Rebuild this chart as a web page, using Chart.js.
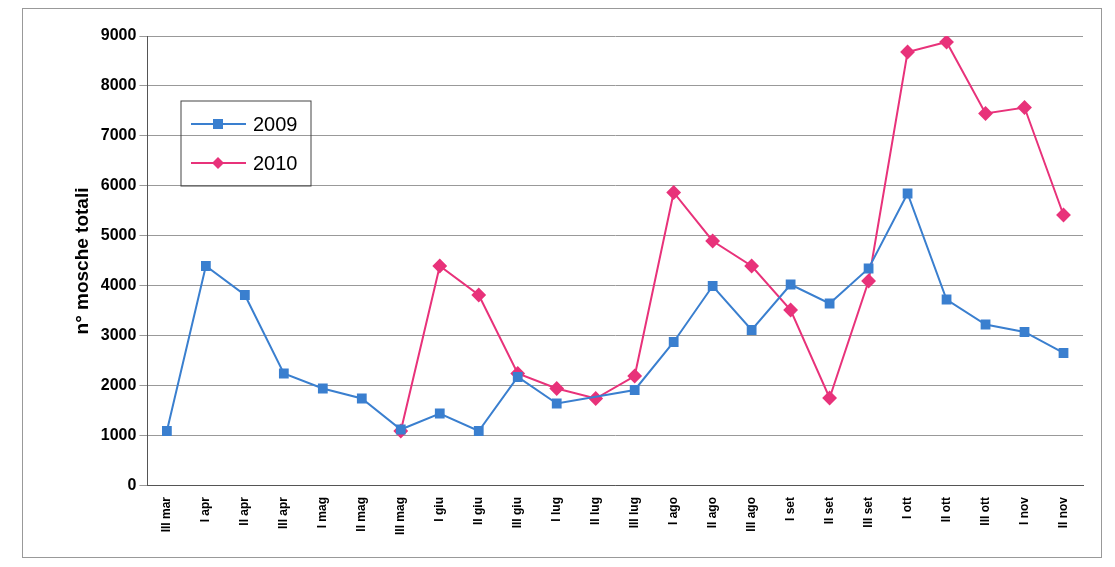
<!DOCTYPE html>
<html><head><meta charset="utf-8">
<script src="https://cdn.jsdelivr.net/npm/chart.js@4"></script>
<style>
body{margin:0;background:#fff;}
#wrap{position:absolute;left:22px;top:8px;width:1078px;height:548px;border:1px solid #999;background:#fff;}
</style></head><body>
<div id="wrap"><canvas id="c"></canvas></div>
<script>
const categories = ["III mar","I apr","II apr","III apr","I mag","II mag","III mag","I giu","II giu","III giu","I lug","II lug","III lug","I ago","II ago","III ago","I set","II set","III set","I ott","II ott","III ott","I nov","II nov"];
const serie2009 = [1100,4400,3820,2250,1950,1750,1130,1450,1100,2180,1650,null,1920,2880,4000,3120,4030,3650,4350,5850,3730,3230,3080,2660];
const serie2010 = [null,null,null,null,null,null,1100,4400,3820,2250,1950,1750,2200,5870,4900,4400,3520,1760,4100,8680,8880,7450,7570,5420];

// legenda disegnata a mano nel riquadro come nell'originale
const legendBox = {
  id: 'legendBox',
  afterDraw(chart) {
    const ctx = chart.ctx;
    ctx.save();
    ctx.strokeStyle = '#444'; ctx.lineWidth = 1;
    ctx.strokeRect(158, 92, 130, 85);
    chart.data.datasets.forEach((d, i) => {
      const y = 115 + i * 39;
      ctx.strokeStyle = d.borderColor; ctx.lineWidth = 2;
      ctx.beginPath(); ctx.moveTo(168, y); ctx.lineTo(223, y); ctx.stroke();
      ctx.fillStyle = d.borderColor;
      if (d.pointStyle === 'rect') {
        ctx.fillRect(190, y - 5, 10, 10);
      } else {
        ctx.beginPath(); ctx.moveTo(195, y - 6); ctx.lineTo(201, y); ctx.lineTo(195, y + 6); ctx.lineTo(189, y); ctx.closePath(); ctx.fill();
      }
      ctx.fillStyle = '#000';
      ctx.font = '20px "Liberation Sans"';
      ctx.textBaseline = 'middle';
      ctx.fillText(d.label, 230, y + 1);
    });
    ctx.restore();
  }
};

new Chart(document.getElementById('c'), {
  type: 'line',
  data: {
    labels: categories,
    datasets: [
      { label: '2009', data: serie2009, borderColor: '#3a7fcf', backgroundColor: '#3a7fcf',
        pointStyle: 'rect', pointRadius: 5.5, borderWidth: 2, spanGaps: true, tension: 0 },
      { label: '2010', data: serie2010, borderColor: '#e8327a', backgroundColor: '#e8327a',
        pointStyle: 'rectRot', pointRadius: 6, borderWidth: 2, spanGaps: true, tension: 0 }
    ]
  },
  plugins: [legendBox],
  options: {
    responsive: true,
    maintainAspectRatio: false,
    animation: false,
    layout: { padding: { top: 27, right: 18, left: 44, bottom: 19 } },
    plugins: {
      legend: { display: false },
      tooltip: { enabled: false }
    },
    scales: {
      x: {
        offset: true,
        grid: { display: false },
        border: { color: '#555' },
        ticks: { maxRotation: 90, minRotation: 90, color: '#000', autoSkip: false,
          font: { family: 'Liberation Sans', size: 12, weight: 'bold' } }
      },
      y: {
        min: 0, max: 9000,
        grid: { color: '#999', drawTicks: true },
        border: { color: '#555' },
        ticks: { stepSize: 1000, color: '#000', callback: v => String(v),
          font: { family: 'Liberation Sans', size: 16, weight: 'bold' } },
        title: { display: true, text: 'n° mosche totali', color: '#000',
          font: { family: 'Liberation Sans', size: 19, weight: 'bold' } }
      }
    }
  }
});
</script>
</body></html>
